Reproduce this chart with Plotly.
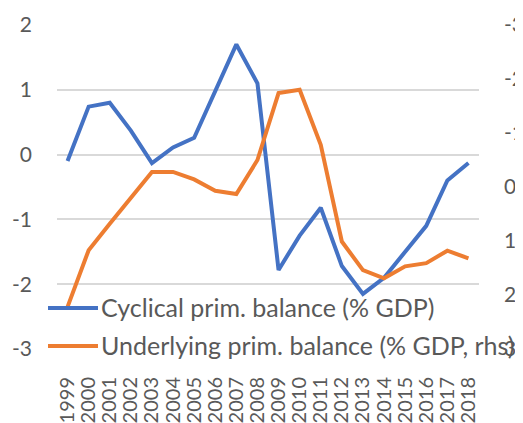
import plotly.graph_objects as go

years = [str(y) for y in range(1999, 2019)]
cyclical = [-0.10, 0.74, 0.80, 0.37, -0.13, 0.11, 0.26, 0.98, 1.70, 1.10,
            -1.78, -1.25, -0.82, -1.72, -2.15, -1.90, -1.51, -1.10, -0.40, -0.13]
underlying = [2.22, 1.17, 0.68, 0.20, -0.28, -0.28, -0.14, 0.07, 0.13, -0.50,
              -1.74, -1.80, -0.78, 1.01, 1.54, 1.69, 1.47, 1.41, 1.18, 1.32]
left_ticks = [-3, -2, -1, 0, 1, 2]
right_ticks = [-3, -2, -1, 0, 1, 2, 3]
names = ["Cyclical prim. balance (% GDP)", "Underlying prim. balance (% GDP, rhs)"]
colors = ["#4472C4", "#ED7D31"]

FONT = "Lato, sans-serif"
TXT = "#595959"

# page has an 8px body margin; figure is sized to fit the 523x423 window
OFF = 8
FW, FH = 523 - OFF, 423 - OFF
# plot area in page pixels
L, R, T, B = 57, 479, 25, 349
W, H = R - L, B - T
def px(x):
    return (x - L) / W
def py(y):
    return (B - y) / H

fig = go.Figure()
fig.add_trace(go.Scatter(x=years, y=cyclical, mode="lines", name=names[0],
                         line=dict(color=colors[0], width=4), showlegend=False))
fig.add_trace(go.Scatter(x=years, y=underlying, mode="lines", name=names[1],
                         line=dict(color=colors[1], width=4), yaxis="y2", showlegend=False))

# manual legend (Excel-style, overlaying the plot)
shapes, annots = [], []
for i, (nm, c) in enumerate(zip(names, colors)):
    yy = [308, 346][i]
    shapes.append(dict(type="line", xref="paper", yref="paper", x0=px(48), x1=px(98),
                       y0=py(yy), y1=py(yy), line=dict(color=c, width=4), layer="above"))
    annots.append(dict(text=nm, xref="paper", yref="paper", x=px(99), y=py(yy - 1),
                       xanchor="left", yanchor="middle", showarrow=False,
                       font=dict(family=FONT, size=25, color=TXT)))

fig.update_layout(
    width=FW, height=FH,
    margin=dict(l=L - OFF, r=523 - R, t=T - OFF, b=423 - B, autoexpand=False),
    paper_bgcolor="white", plot_bgcolor="white",
    font=dict(family=FONT, size=21, color=TXT),
    xaxis=dict(type="category", range=[-0.5, 19.5], tickangle=-90, showgrid=False,
               tickmode="array", tickvals=years, ticktext=years,
               showline=False, ticks="", tickfont=dict(size=20, color=TXT),
               ticklabelstandoff=23, automargin=False),
    yaxis=dict(range=[-3, 2], tickmode="array", tickvals=left_ticks,
               ticktext=[str(v) for v in left_ticks],
               showgrid=True, gridcolor="#D9D9D9", gridwidth=1.5,
               zeroline=False, showline=False, ticks="", tickfont=dict(size=21, color=TXT),
               ticklabelstandoff=24, automargin=False),
    yaxis2=dict(range=[3, -3], tickmode="array", tickvals=right_ticks,
                ticktext=[str(v) for v in right_ticks], overlaying="y", side="right",
                showgrid=False, zeroline=False, showline=False, ticks="",
                tickfont=dict(size=21, color=TXT), ticklabelstandoff=24, automargin=False),
    shapes=shapes, annotations=annots,
    showlegend=False,
)
fig.write_html("out.html", post_script="document.body.style.overflow='hidden';")
